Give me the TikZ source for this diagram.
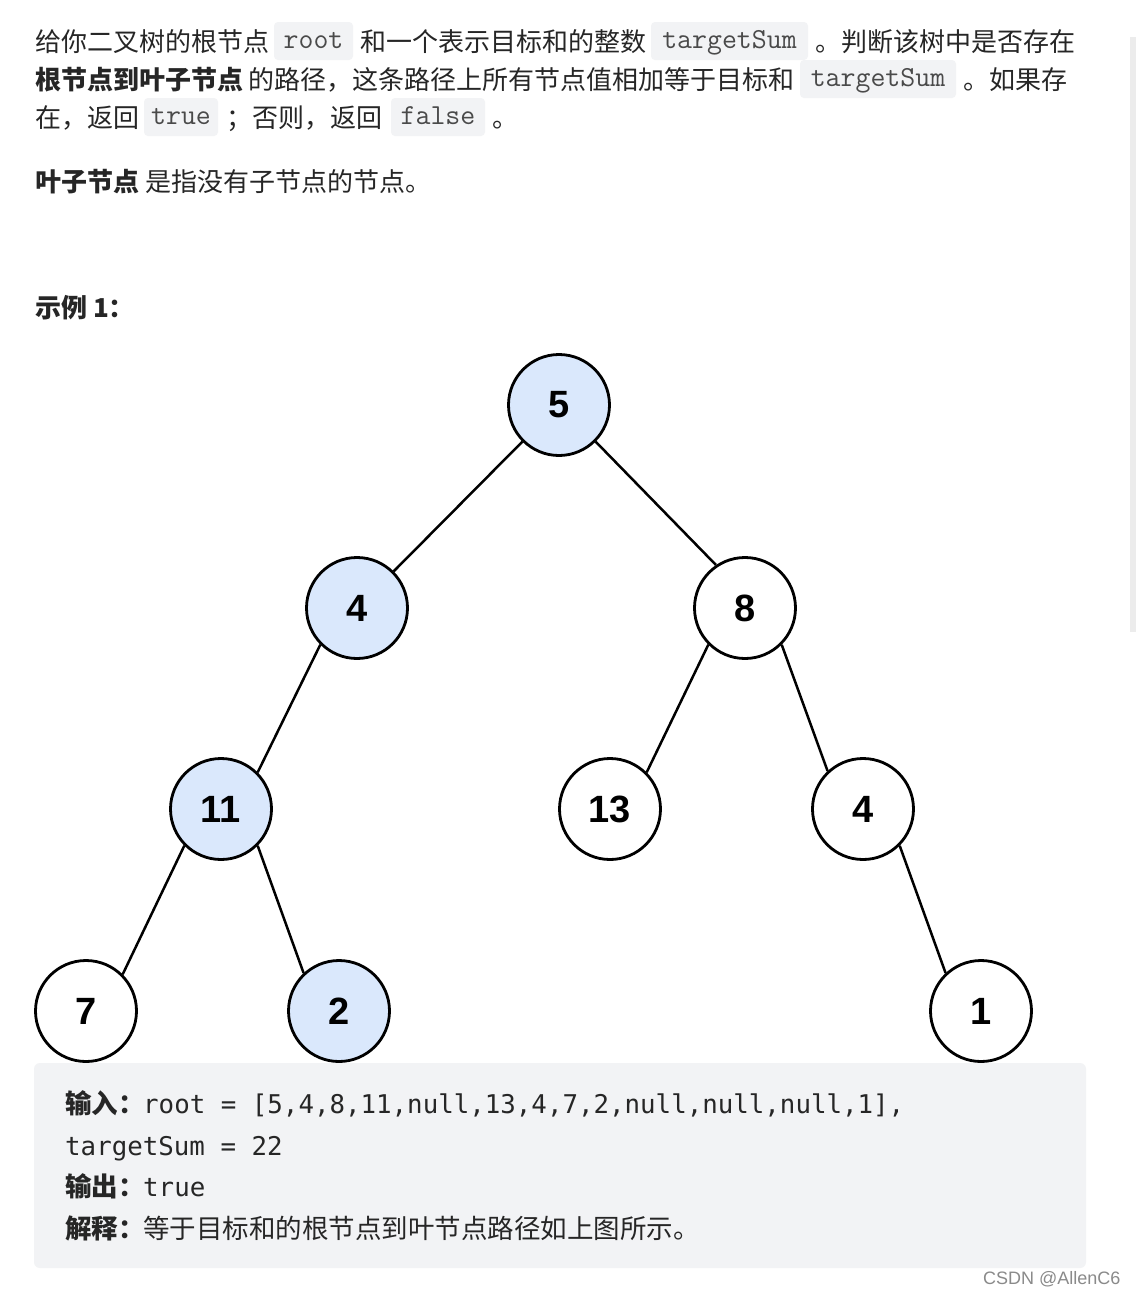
\documentclass[tikz,border=0pt]{standalone}
\usepackage{fontspec}
\newfontfamily\cjk{Noto Sans CJK SC}
\newfontfamily\codemono{DejaVu Sans Mono}
\newfontfamily\numfont{Liberation Sans}
\definecolor{textc}{HTML}{262626}
\definecolor{icodec}{HTML}{4A4A4A}
\definecolor{codefill}{HTML}{F2F3F5}
\definecolor{hlblue}{HTML}{DAE8FC}
\definecolor{wmark}{HTML}{8A8A8A}
\definecolor{scrollc}{HTML}{ECECEC}
\tikzset{
  txt/.style={anchor=base west, inner sep=0pt, text=textc, font=\cjk\fontsize{26}{30}\selectfont},
  btxt/.style={anchor=base west, inner sep=0pt, text=textc, font=\cjk\bfseries\fontsize{26}{30}\selectfont},
  ctxt/.style={anchor=base west, inner sep=0pt, text=textc, font=\cjk\fontsize{26.5}{30}\selectfont},
  cbtxt/.style={anchor=base west, inner sep=0pt, text=textc, font=\cjk\bfseries\fontsize{26.5}{30}\selectfont},
  mono/.style={anchor=base west, inner sep=0pt, text=textc, font=\codemono\fontsize{25.8}{30}\selectfont},
  icode/.style={anchor=base, inner sep=0pt, text=icodec, font=\ttfamily\fontsize{29}{32}\selectfont},
  codebox/.style={fill=codefill, rounded corners=4pt},
  tnode/.style={circle, draw=black, line width=2.8pt, minimum size=101pt, inner sep=0pt, fill=white, text=black, font=\numfont\bfseries\fontsize{38}{40}\selectfont},
  hl/.style={tnode, fill=hlblue},
  edge/.style={line width=2.5pt, draw=black}
}
\begin{document}
\begin{tikzpicture}[x=1pt, y=-1pt]
\useasboundingbox (0,0) rectangle (1136,1294);
\fill[white] (0,0) rectangle (1136,1294);
% scrollbar
\fill[scrollc] (1130,37) rectangle (1136,632);

% inline code boxes
\fill[codebox] (274,22) rectangle (353,60);
\fill[codebox] (651,22) rectangle (808,60);
\fill[codebox] (800,60) rectangle (956,98);
\fill[codebox] (144,98) rectangle (218,136);
\fill[codebox] (391,98) rectangle (485,136);

% line 1
\node[txt] (l1a) at (35,51) {给你二叉树的根节点};
\node[icode] (l1b) at (313.5,48) {root};
\node[txt] (l1c) at (360,51) {和一个表示目标和的整数};
\node[icode] (l1d) at (729.5,48) {targetSum};
\node[txt] (l1e) at (815,51) {。判断该树中是否存在};
% line 2
\node[btxt] (l2a) at (35,89) {根节点到叶子节点};
\node[txt] (l2b) at (248,89) {的路径，这条路径上所有节点值相加等于目标和};
\node[icode] (l2c) at (878,86) {targetSum};
\node[txt] (l2d) at (963,89) {。如果存};
% line 3
\node[txt] (l3a) at (35,127) {在，返回};
\node[icode] (l3b) at (181,124) {true};
\node[txt] (l3c) at (226,127) {；否则，返回};
\node[icode] (l3d) at (438,124) {false};
\node[txt] (l3e) at (492,127) {。};
% line 4
\node[btxt] (l4a) at (35,191) {叶子节点};
\node[txt] (l4b) at (145,191) {是指没有子节点的节点。};
% example title
\node[btxt] (ex) at (35,317) {示例 1：};

% tree
\node[hl] (n5) at (559,405) {5};
\node[hl] (n4) at (357,608) {4};
\node[tnode] (n8) at (745,608) {8};
\node[hl] (n11) at (221,809) {11};
\node[tnode] (n13) at (610,809) {13};
\node[tnode] (n4r) at (863,809) {4};
\node[tnode] (n7) at (86,1011) {7};
\node[hl] (n2) at (339,1011) {2};
\node[tnode] (n1) at (981,1011) {1};
\draw[edge] (n5.-135) -- (n4.45);
\draw[edge] (n5.-45) -- (n8.124);
\draw[edge] (n4.-135) -- (n11.45);
\draw[edge] (n8.-135) -- (n13.45);
\draw[edge] (n8.-45) -- (n4r.133);
\draw[edge] (n11.-135) -- (n7.45);
\draw[edge] (n11.-45) -- (n2.133);
\draw[edge] (n4r.-45) -- (n1.133);

% code block
\fill[codefill, rounded corners=6pt] (34,1063) rectangle (1086,1268);
\node[cbtxt] (in) at (65,1113) {输入：};
\node[mono] (inv) at (143,1113) {root = [5,4,8,11,null,13,4,7,2,null,null,null,1],};
\node[mono] (ts) at (65,1155) {targetSum = 22};
\node[cbtxt] (out) at (65,1196) {输出：};
\node[mono] (outv) at (143,1196) {true};
\node[cbtxt] (ex2) at (65,1238) {解释：};
\node[ctxt] (ex2v) at (143,1238) {等于目标和的根节点到叶节点路径如上图所示。};

% watermark
\node[anchor=base west, inner sep=0pt, text=wmark, font=\numfont\fontsize{18}{20}\selectfont] (wm) at (983,1284) {CSDN @AllenC6};
\end{tikzpicture}
\end{document}
